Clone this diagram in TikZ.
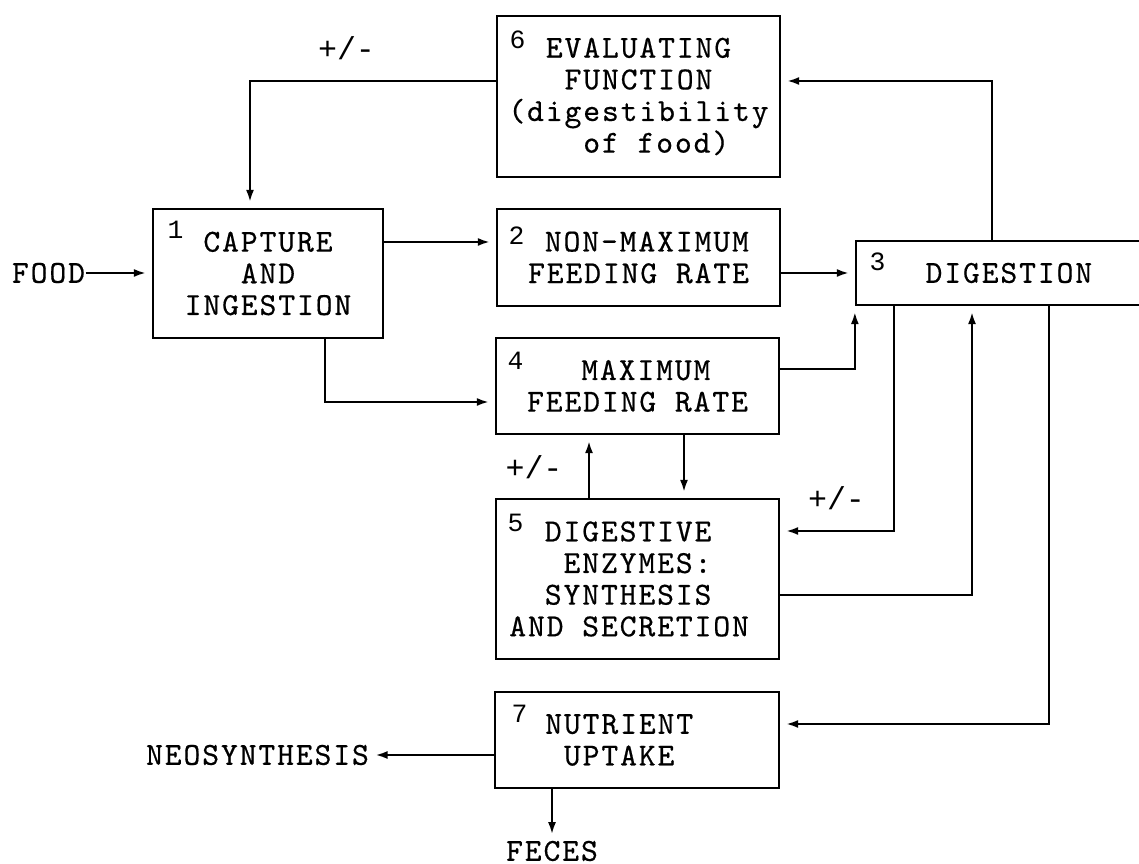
\documentclass[tikz,border=0pt]{standalone}
\usepackage{fontspec}
\newfontfamily\mono{Liberation Mono}
\newfontfamily\typer{lmmono10-regular.otf}[LetterSpace=6,FakeBold=0.5]
\usetikzlibrary{arrows.meta}
\newcommand\boxfont{\typer\fontsize{9.1}{9}\selectfont}
\tikzset{
  box/.style={draw, line width=0.6pt, inner sep=0pt, align=center, font=\boxfont},
  num/.style={anchor=north west, inner sep=0pt,
    font=\mono\fontsize{7.5}{7.5}\selectfont},
  txt/.style={inner sep=0pt, font=\boxfont},
  sign/.style={inner sep=0pt, font=\mono\fontsize{9}{9}\selectfont},
  arr/.style={-{Latex[length=1.2mm,width=0.8mm]}, line width=0.6pt, shorten >=0.6mm},
}
\begin{document}
\begin{tikzpicture}[x=0.01cm, y=-0.01cm]
  \useasboundingbox (0,0) rectangle (1139,864);
  \node[box, minimum width=2.30cm, minimum height=1.29cm] (b1) at (268,273.5)
    {CAPTURE\\AND\\INGESTION};
  \node[box, minimum width=2.83cm, minimum height=1.61cm] (b6) at (638.5,96.5)
    {EVALUATING\\FUNCTION\\(digestibility\\\hphantom{XX}of food)};
  \node[box, minimum width=2.83cm, minimum height=0.97cm] (b2) at (638.5,257.5)
    {\hphantom{X}NON-MAXIMUM\\FEEDING RATE};
  \node[box, minimum width=2.89cm, minimum height=0.64cm] (b3) at (1000.5,273)
    {\hphantom{X}DIGESTION};
  \node[box, minimum width=2.83cm, minimum height=0.96cm] (b4) at (637.5,386)
    {\hphantom{X}MAXIMUM\\FEEDING RATE};
  \node[box, align=left, minimum width=2.83cm, minimum height=1.60cm] (b5) at (637.5,579)
    {\hphantom{XX}DIGESTIVE\\\hphantom{XXX}ENZYMES:\\\hphantom{XX}SYNTHESIS\\AND SECRETION\hphantom{X}};
  \node[box, minimum width=2.84cm, minimum height=0.96cm] (b7) at (637,740)
    {NUTRIENT\hphantom{XX}\\UPTAKE\hphantom{XX}};

  \node[num] at ([xshift=0.15cm,yshift=-0.13cm]b1.north west) {1};
  \node[num] at ([xshift=0.12cm,yshift=-0.18cm]b2.north west) {2};
  \node[num] at ([xshift=0.14cm,yshift=-0.12cm]b3.north west) {3};
  \node[num] at ([xshift=0.12cm,yshift=-0.15cm]b4.north west) {4};
  \node[num] at ([xshift=0.12cm,yshift=-0.16cm]b5.north west) {5};
  \node[num] at ([xshift=0.13cm,yshift=-0.15cm]b6.north west) {6};
  \node[num] at ([xshift=0.17cm,yshift=-0.13cm]b7.north west) {7};

  \node[txt] (food) at (48.5,273) {FOOD};
  \node[txt] (neo) at (257.5,755) {NEOSYNTHESIS};
  \node[txt] (feces) at (552,851) {FECES};
  \node[sign] (pm1) at (346.5,48) {+/-};
  \node[sign] (pm2) at (534,467) {+/-};
  \node[sign] (pm3) at (836.5,498) {+/-};

  \draw[arr] (food.east) -- (b1.west |- food.east);
  \draw[arr] (b1.east |- 0,242) -- (b2.west |- 0,242);
  \draw[arr] (b1.south -| 325,0) |- (b4.west |- 0,402);
  \draw[arr] (b6.west |- 0,81) -| (b1.north -| 250,0);
  \draw[arr] (b3.north -| 992,0) |- (b6.east |- 0,81);
  \draw[arr] (b2.east |- b3.west) -- (b3.west);
  \draw[arr] (b4.east |- 0,369) -| (b3.south west);
  \draw[arr] (b4.south -| 684,0) -- (b5.north -| 684,0);
  \draw[arr] (b5.north -| 589,0) -- (b4.south -| 589,0);
  \draw[arr] (b3.south -| 894,0) |- (b5.east |- 0,531);
  \draw[arr] (b5.east |- 0,595) -| (b3.south -| 972,0);
  \draw[arr] (b3.south -| 1049,0) |- (b7.east |- 0,724);
  \draw[arr] (b7.west |- neo.east) -- (neo.east);
  \draw[arr] (b7.south -| feces.north) -- (feces.north);
\end{tikzpicture}
\end{document}
